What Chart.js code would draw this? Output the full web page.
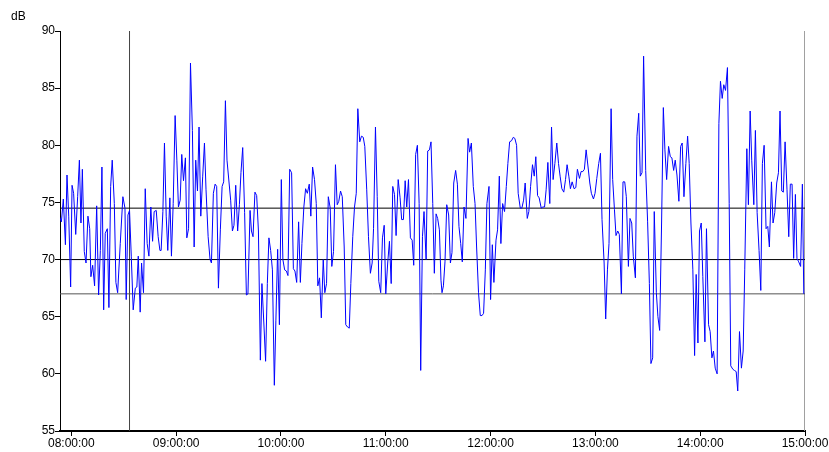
<!DOCTYPE html>
<html>
<head>
<meta charset="utf-8">
<script src="https://cdn.jsdelivr.net/npm/chart.js@4"></script>
<style>
html,body{margin:0;padding:0;background:#fff;}
#wrap{width:829px;height:452px;}
</style>
</head>
<body>
<div id="wrap"><canvas id="c" width="829" height="452"></canvas></div>
<script>
// minutes after 08:00:00
const times = [
-6.9,-5.7,-4.6,-3.4,-2.5,-1.5,-0.4,0.4,1.3,2.5,3.6,4.6,5.5,6.3,7.4,8.4,9.5,10.5,11.2,12.2,13.3,14.5,15.6,16.6,17.5,18.5,19.4,20.6,21.5,22.5,23.4,24.6,25.5,26.5,28.0,29.5,30.7,31.4,32.4,33.3,34.3,35.4,36.6,37.5,38.3,39.4,40.2,41.3,42.3,43.4,44.4,45.5,46.5,47.4,48.6,49.7,50.7,51.4,52.4,53.3,54.3,55.2,56.4,57.3,58.3,59.4,60.4,61.3,62.3,63.2,64.2,
65.3,66.1,67.1,68.2,69.3,70.3,71.2,72.2,73.1,74.1,75.2,76.2,77.1,78.3,79.4,80.2,81.3,82.3,83.2,84.2,85.3,86.3,87.2,88.2,89.1,90.3,91.2,92.2,93.1,94.1,95.2,96.2,97.1,98.1,99.2,100.2,101.1,102.3,103.1,104.0,105.1,106.1,107.1,108.2,109.1,110.3,111.2,112.2,113.1,114.1,115.1,116.2,117.1,118.1,119.1,120.2,121.1,122.1,123.1,124.0,125.0,126.1,127.1,128.0,129.0,130.1,131.1,132.0,133.1,134.1,135.1,
136.2,137.1,138.1,139.2,140.2,141.1,142.1,143.1,144.2,145.1,146.1,147.1,148.2,149.1,150.1,151.2,152.2,153.1,154.1,155.1,156.2,157.1,158.1,159.1,160.0,161.1,162.1,163.1,164.0,165.1,166.1,167.1,168.0,169.1,170.1,171.2,172.2,173.0,174.1,175.1,176.0,177.1,178.1,179.1,180.0,181.1,182.1,183.1,184.0,185.0,185.9,187.1,188.2,189.1,190.1,191.1,192.0,193.0,194.1,195.1,196.0,197.1,198.1,199.1,200.0,201.0,201.9,203.1,204.0,205.0,205.9,
206.9,207.8,208.8,209.7,210.7,211.6,212.2,213.0,213.9,214.9,216.0,217.0,217.9,218.9,220.0,221.0,221.9,222.9,223.8,224.8,225.9,227.1,228.0,229.0,230.1,231.1,232.0,233.1,234.1,235.1,236.0,237.0,237.9,239.1,240.0,241.0,241.9,243.1,244.0,245.0,245.9,246.9,248.0,249.0,249.9,250.9,252.0,253.0,253.9,254.9,255.8,257.0,257.9,258.9,259.8,261.0,261.9,262.9,264.0,265.0,265.9,266.9,267.8,269.0,269.9,270.9,271.8,272.8,273.9,274.9,275.8,276.8,
277.9,278.9,279.8,280.8,281.9,282.9,283.8,284.8,285.7,286.7,287.8,288.8,289.7,290.9,291.8,292.8,293.7,294.7,295.8,296.8,297.7,298.9,299.8,300.8,301.9,302.9,303.8,305.0,305.9,306.9,307.8,309.0,309.9,310.9,311.8,312.8,313.7,314.9,315.8,316.8,317.7,318.9,319.8,320.8,321.7,322.9,323.8,324.8,325.7,326.7,327.6,328.8,329.9,330.9,331.8,332.8,333.7,334.9,335.8,336.8,337.9,338.9,339.8,340.8,341.9,342.9,343.8,344.8,345.7,346.7,347.8,
348.8,349.7,350.7,351.8,352.8,353.7,354.7,355.8,356.8,357.7,358.7,359.6,360.6,361.5,362.7,363.6,364.8,365.7,366.7,367.6,368.6,369.7,370.7,371.6,372.6,373.5,374.5,375.6,376.6,377.5,378.7,379.6,380.6,381.5,382.5,383.6,384.6,385.5,386.7,387.6,388.6,389.5,390.7,391.6,392.6,393.7,394.7,395.6,396.6,397.7,398.7,399.6,400.8,401.7,402.7,403.8,404.8,405.7,406.7,407.6,408.6,409.7,410.7,411.6,412.6,413.5,414.5,415.4,416.4,417.5,418.5,419.3
];
// sound level, dB
const levels = [
73.8,73.3,75.3,71.3,77.4,73.8,67.6,76.5,75.8,72.2,75.5,78.7,73.2,77.9,70.7,69.7,73.8,72.7,68.5,69.5,67.7,74.7,66.9,70.8,78.1,65.6,72.3,72.7,65.8,76.4,78.7,74.9,68.0,67.1,71.4,75.5,74.5,66.5,73.9,74.3,70.3,65.6,67.5,67.6,70.3,65.4,69.7,67.1,76.2,71.4,70.3,74.6,71.6,74.2,74.3,72.0,70.8,70.8,74.2,80.2,73.8,70.8,75.4,70.3,74.9,82.6,78.7,74.6,75.2,79.2,76.9,
78.9,71.9,72.7,87.2,81.3,71.1,78.7,76.0,81.6,73.8,77.3,80.2,76.1,72.0,70.0,69.7,75.8,76.6,76.4,67.5,72.6,76.4,76.8,83.9,78.7,76.7,75.2,72.5,73.0,76.5,72.5,74.8,77.6,79.8,74.1,66.9,67.0,74.3,72.5,72.0,75.9,75.6,72.5,61.2,67.9,64.1,61.1,67.9,71.9,70.8,69.1,59.0,64.7,70.9,64.3,77.0,70.0,69.1,69.0,68.6,77.9,77.6,69.2,69.0,68.0,73.3,68.0,71.4,74.6,76.2,75.8,
76.6,73.8,78.1,77.0,74.9,67.7,68.4,64.9,70.0,67.1,67.9,75.5,74.5,69.4,70.7,78.3,74.8,75.1,76.0,75.5,71.1,64.3,64.1,64.0,67.9,72.0,74.6,75.8,83.2,80.3,80.8,80.7,79.9,76.1,72.0,68.8,69.7,72.7,81.6,75.5,68.1,67.1,71.9,73.0,67.0,69.7,71.6,67.9,76.4,75.7,72.1,77.0,75.4,73.5,73.5,76.9,74.6,77.0,71.9,71.7,69.5,79.2,80.0,74.9,60.3,72.0,74.2,70.0,79.5,79.6,80.3,
74.9,68.8,74.0,73.6,72.6,68.2,67.1,67.7,69.8,74.8,73.9,69.7,70.6,76.7,77.8,76.6,72.9,71.4,69.8,74.6,73.6,80.6,79.4,80.2,76.4,74.9,71.1,67.1,65.1,65.1,65.3,69.1,74.9,76.4,66.5,71.3,68.0,71.7,72.6,77.3,71.4,74.9,74.2,76.4,78.4,80.3,80.4,80.7,80.6,80.0,75.8,74.5,74.5,75.2,76.7,73.6,74.2,76.4,78.3,77.3,79.0,75.6,75.4,74.5,74.6,74.6,76.1,78.5,74.9,81.6,77.0,78.4,
80.2,78.4,77.3,76.2,75.9,77.0,78.3,77.3,76.2,76.8,76.2,76.3,77.9,77.1,77.7,77.7,77.9,79.6,78.1,76.7,75.8,75.3,75.8,77.1,78.4,79.3,73.5,69.7,64.8,69.1,71.4,83.2,77.0,74.4,72.1,72.5,72.2,67.0,76.8,76.8,75.5,69.4,73.6,73.2,70.3,68.4,80.8,82.8,77.3,77.6,87.8,77.8,73.3,67.9,60.9,61.4,74.2,67.1,65.0,63.8,73.2,83.3,79.6,77.0,79.9,79.0,78.9,77.8,78.7,77.4,75.1,
79.9,80.2,75.5,78.4,80.8,78.4,73.2,69.1,61.6,68.7,62.7,72.5,73.2,68.5,62.8,72.7,64.3,63.7,61.4,62.0,60.5,60.0,81.9,85.6,84.1,85.3,84.8,86.8,74.9,60.7,60.4,60.3,60.2,58.5,63.7,60.5,62.0,69.1,79.7,74.8,83.0,78.7,74.8,81.3,74.1,70.8,67.3,78.4,80.0,72.7,72.9,71.1,76.8,73.2,74.1,76.7,77.6,83.0,76.0,75.9,80.3,76.1,72.0,76.6,76.6,70.1,75.7,70.1,69.8,69.4,76.6,67.0
];
const hourTicks = [0, 60, 120, 180, 240, 300, 360, 420];
const hourLabels = ["08:00:00","09:00:00","10:00:00","11:00:00","12:00:00","13:00:00","14:00:00","15:00:00"];
const limitLevels = [74.5, 70, 67];
const markerTimes = [33.3, 420];
const timeStart = -6.5, timeEnd = 420;
const levelMin = 55, levelMax = 90;
const unitLabel = "dB";

const FONT = "'Liberation Sans', Arial, sans-serif";

const series = times.map((t, i) => ({x: t, y: levels[i]}));
const datasets = [{
  data: series, borderColor: '#0000ff', borderWidth: 1, pointRadius: 0, tension: 0
}];
limitLevels.forEach((v, i) => datasets.push({
  data: [{x: timeStart, y: v}, {x: timeEnd, y: v}],
  borderColor: i === 2 ? '#555555' : '#000000', borderWidth: 1, pointRadius: 0
}));
markerTimes.forEach((t, i) => datasets.push({
  data: [{x: t, y: levelMin}, {x: t, y: levelMax}],
  borderColor: i === 0 ? '#444444' : '#a0a0a0', borderWidth: i === 0 ? 1 : 2, pointRadius: 0
}));

const unitPlugin = {
  id: 'unit',
  afterDraw(chart) {
    const ctx = chart.ctx;
    ctx.save();
    ctx.font = "12px " + FONT;
    ctx.fillStyle = '#000';
    ctx.textAlign = 'left';
    ctx.textBaseline = 'alphabetic';
    ctx.fillText(unitLabel, 11, 20);
    ctx.restore();
  }
};

new Chart(document.getElementById('c'), {
  type: 'line',
  data: { datasets },
  plugins: [unitPlugin],
  options: {
    responsive: false,
    animation: false,
    layout: { padding: { left: 0, right: 24, top: 31, bottom: 0 } },
    plugins: { legend: { display: false }, tooltip: { enabled: false } },
    scales: {
      x: {
        type: 'linear', min: timeStart, max: timeEnd,
        afterBuildTicks(scale) { scale.ticks = hourTicks.map(v => ({value: v})); },
        afterFit(scale) { scale.height = 21; },
        ticks: {
          autoSkip: false, maxRotation: 0, padding: 0,
          color: '#000', font: { family: FONT, size: 12 },
          callback(v) { const i = hourTicks.indexOf(v); return i >= 0 ? hourLabels[i] : ''; }
        },
        grid: { drawOnChartArea: false, tickLength: 5, color: '#000' },
        border: { color: '#000', width: 2 }
      },
      y: {
        min: levelMin, max: levelMax,
        afterFit(scale) { scale.width = 60; },
        ticks: { stepSize: 5, padding: 0, color: '#000', font: { family: FONT, size: 12 } },
        grid: { drawOnChartArea: false, tickLength: 5, color: '#000' },
        border: { color: '#000', width: 1 }
      }
    }
  }
});
</script>
</body>
</html>
